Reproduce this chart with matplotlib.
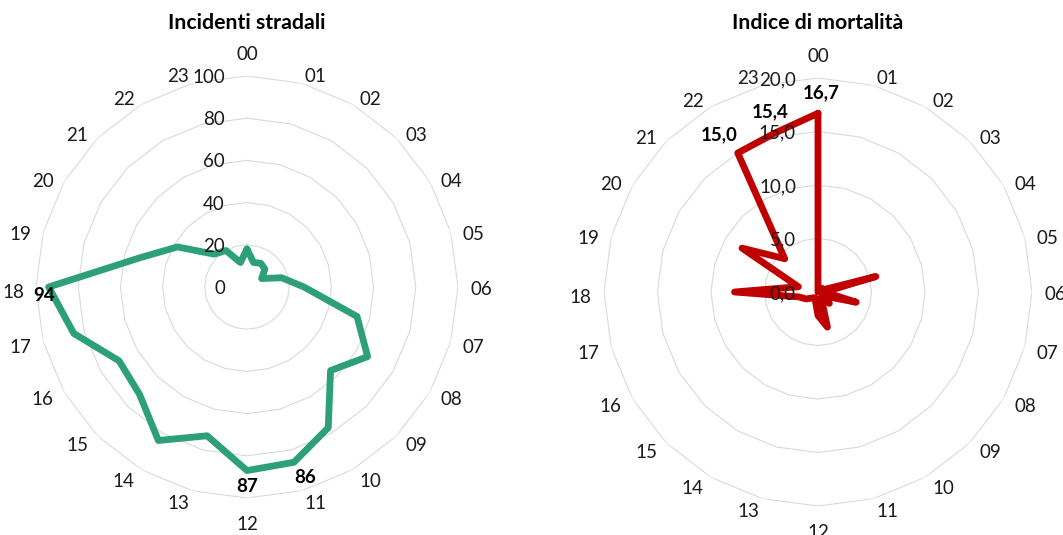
import numpy as np
import matplotlib
matplotlib.use("Agg")
import matplotlib.pyplot as plt
from matplotlib import transforms

plt.rcParams["font.family"] = ["Lato", "DejaVu Sans"]

# ---------------- data ----------------
hours = [f"{h:02d}" for h in range(24)]

incidenti = [18, 12, 13, 12, 8, 17, 27, 54, 66, 56, 77, 86,
             87, 73, 84, 72, 70, 85, 94, 53, 38, 22, 20, 12]
incidenti_ticks = [0, 20, 40, 60, 80, 100]
incidenti_labeled = [18, 12, 11]          # hours with a data label

mortalita = [16.7, 0.0, 0.3, 0.5, 0.3, 5.6, 0.6, 3.7, 0.8, 1.5, 0.6, 3.4,
             2.2, 0.9, 0.6, 0.8, 1.3, 1.8, 7.8, 1.9, 8.2, 4.4, 15.0, 15.4]
mortalita_ticks = [0.0, 5.0, 10.0, 15.0, 20.0]
mortalita_labeled = [0, 23, 22]

titles = ["Incidenti stradali", "Indice di mortalità"]

W, H = 1063, 535
fig = plt.figure(figsize=(W / 100, H / 100), dpi=100)

GRID = "#D9D9D9"
TXT = "#1A1A1A"
FS = 13.5


def comma(v, dec):
    return f"{v:.{dec}f}".replace(".", ",")


def label_offset(th):
    """Pixel offset (right, down) of a category label from the outer ring vertex."""
    s, c = np.sin(th), np.cos(th)
    dx = 23 * np.sign(s) * abs(s) ** 0.35 if abs(s) > 1e-6 else 0.0
    if abs(s) < 1e-6:
        dy = -23 if c > 0 else 25
    elif c > 0:
        dy = 1 - 10 * c ** 2
    else:
        dy = 4 + 8 * c ** 2
    return dx, dy


def radar(cx, cy, rad, values, ticks, dec, color, labeled, offsets, title):
    rect = [(cx - rad) / W, (H - cy - rad) / H, 2 * rad / W, 2 * rad / H]
    ax = fig.add_axes(rect, projection="polar")
    ax.set_theta_zero_location("N")
    ax.set_theta_direction(-1)
    ax.set_ylim(0, ticks[-1])
    ax.grid(False)
    ax.set_xticks([])
    ax.set_yticks([])
    ax.spines["polar"].set_visible(False)
    ax.patch.set_alpha(0)

    n = len(values)
    theta = np.deg2rad(np.arange(n) * 360.0 / n)
    closed = np.append(theta, theta[0])

    for t in ticks[1:]:
        ax.plot(closed, [t] * (n + 1), color=GRID, lw=0.8, zorder=1)

    vals = np.append(values, values[0])
    ax.plot(closed, vals, color=color, lw=4.9, solid_joinstyle="round",
            solid_capstyle="round", zorder=3)

    off = transforms.offset_copy(ax.transData, fig=fig, x=-22, y=0, units="dots")
    for t in ticks:
        ax.text(0, t, comma(t, dec), transform=off, ha="right",
                va="center_baseline", fontsize=FS, color=TXT, clip_on=False,
                zorder=5)

    # category labels around the outer ring
    k = rad / 212.0
    for th, h in zip(theta, hours):
        dx, dy = label_offset(th)
        x = cx + rad * np.sin(th) + dx * k
        y = cy - rad * np.cos(th) + dy * k
        fig.text(x / W, 1 - y / H, h, ha="center", va="center_baseline",
                 fontsize=FS, color=TXT)

    for idx, (dx, dy) in zip(labeled, offsets):
        ax.annotate(comma(values[idx], dec), xy=(theta[idx], values[idx]),
                    xytext=(dx, dy), textcoords="offset pixels",
                    ha="center", va="center_baseline", fontsize=FS,
                    fontweight="bold", color="#000000", zorder=6,
                    annotation_clip=False)

    fig.text(cx / W, 1 - 23 / H, title, ha="center", va="center",
             fontsize=15.3, fontweight="bold", color="#000000")
    return ax


radar(247, 287, 211, incidenti, incidenti_ticks, 0, "#2EA078",
      incidenti_labeled, [(-5, -7), (0, -14), (11, -14)], titles[0])
radar(818, 292, 214, mortalita, mortalita_ticks, 1, "#C00000",
      mortalita_labeled, [(3, 22), (-5, 23), (-19, 20)], titles[1])

fig.savefig("out.png", dpi=100)
